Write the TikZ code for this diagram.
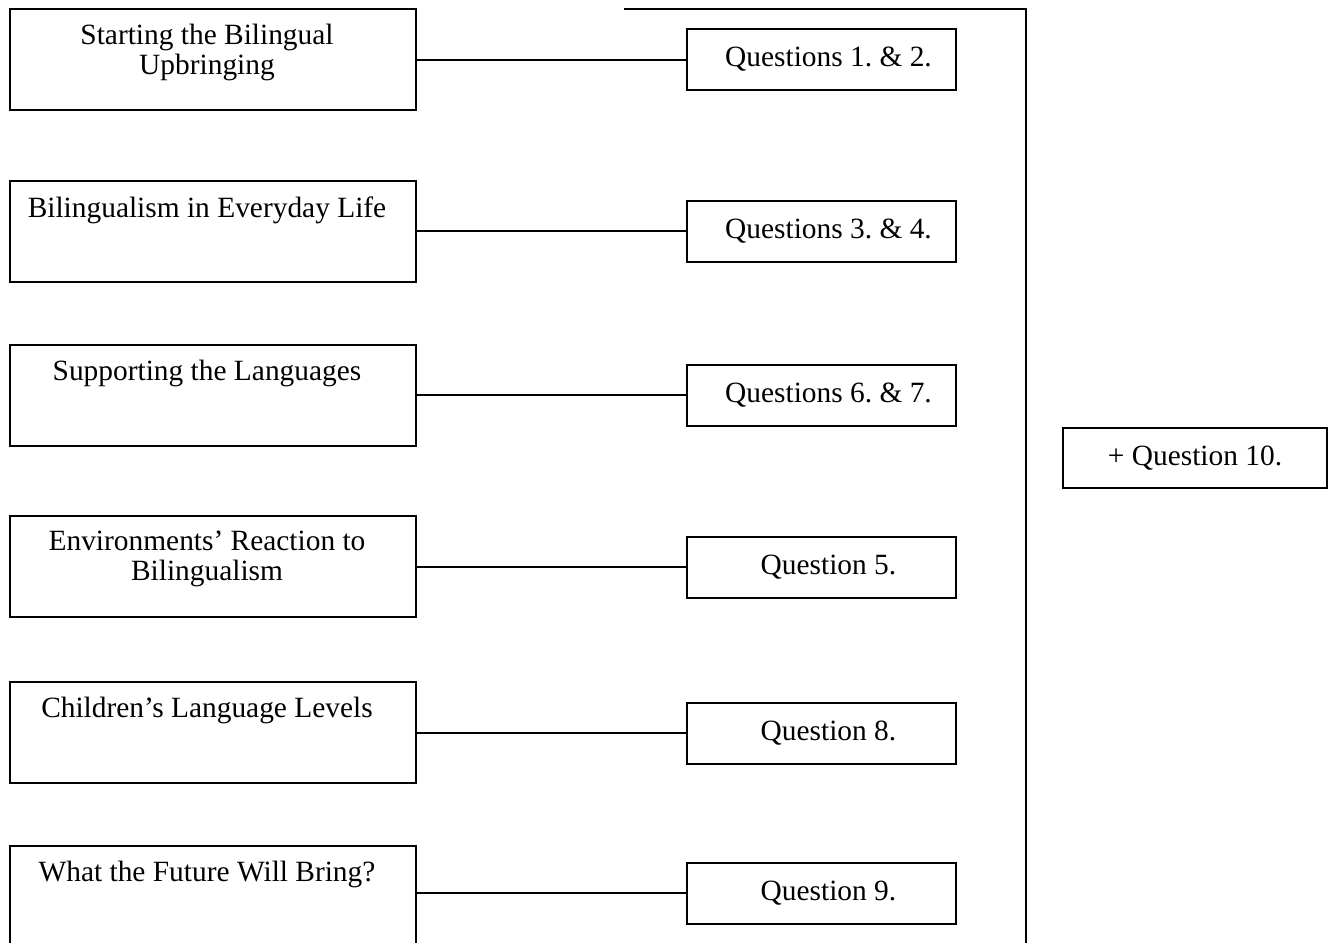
\documentclass[tikz,border=0pt]{standalone}
\usepackage{fontspec}
\setmainfont{Liberation Serif}
\usetikzlibrary{positioning}
\frenchspacing
\tikzstyle{every node}=[inner sep=0pt,font=\fontsize{14.7}{15}\selectfont]
\tikzstyle{topic}=[draw=black,line width=1pt,minimum width=203pt,minimum height=50.5pt]
\tikzstyle{quest}=[draw=black,line width=1pt,minimum width=134.5pt,minimum height=30.5pt]
\tikzstyle{caption}=[align=center,anchor=north]
\tikzstyle{link}=[line width=1pt]

\begin{document}
\begin{tikzpicture}[x=0.5pt,y=-0.5pt]
  \clip (0,0) rectangle (1336,942);
  % topic boxes
  \node[topic] (t1) at (213,59.5) {};
  \node[topic] (t2) at (213,231.5) {};
  \node[topic] (t3) at (213,395.5) {};
  \node[topic] (t4) at (213,566.5) {};
  \node[topic] (t5) at (213,732.5) {};
  \node[topic] (t6) at (213,896.5) {};
  \node[caption] (c1) at ([xshift=-3pt,yshift=-8pt]t1.north) {Starting the Bilingual\\Upbringing};
  \node[caption] (c2) at ([xshift=-3pt,yshift=-8pt]t2.north) {Bilingualism in Everyday Life};
  \node[caption] (c3) at ([xshift=-3pt,yshift=-8pt]t3.north) {Supporting the Languages};
  \node[caption] (c4) at ([xshift=-3pt,yshift=-8pt]t4.north) {Environments’ Reaction to\\Bilingualism};
  \node[caption] (c5) at ([xshift=-3pt,yshift=-8pt]t5.north) {Children’s Language Levels};
  \node[caption] (c6) at ([xshift=-3pt,yshift=-8pt]t6.north) {What the Future Will Bring?};

  % question boxes
  \node[quest] (q1) at (821.5,59.5) {\hspace*{7pt}Questions 1. \& 2.};
  \node[quest] (q2) at (821.5,231) {\hspace*{7pt}Questions 3. \& 4.};
  \node[quest] (q3) at (821.5,395) {\hspace*{7pt}Questions 6. \& 7.};
  \node[quest] (q4) at (821.5,567) {\hspace*{7pt}Question 5.};
  \node[quest] (q5) at (821.5,733) {\hspace*{7pt}Question 8.};
  \node[quest] (q6) at (821.5,893) {\hspace*{7pt}Question 9.};
  \node[quest,minimum width=132pt,minimum height=30pt] (q10) at (1195,458) {+ Question 10.};

  \draw[link] (q1.west) -- (q1.west -| t1.east);
  \draw[link] (q2.west) -- (q2.west -| t2.east);
  \draw[link] (q3.west) -- (q3.west -| t3.east);
  \draw[link] (q4.west) -- (q4.west -| t4.east);
  \draw[link] (q5.west) -- (q5.west -| t5.east);
  \draw[link] (q6.west) -- (q6.west -| t6.east);

  \coordinate (top) at (624,9);
  \coordinate (foot) at (1026,950);
  \draw[link] (top) -| (foot);
\end{tikzpicture}
\end{document}
